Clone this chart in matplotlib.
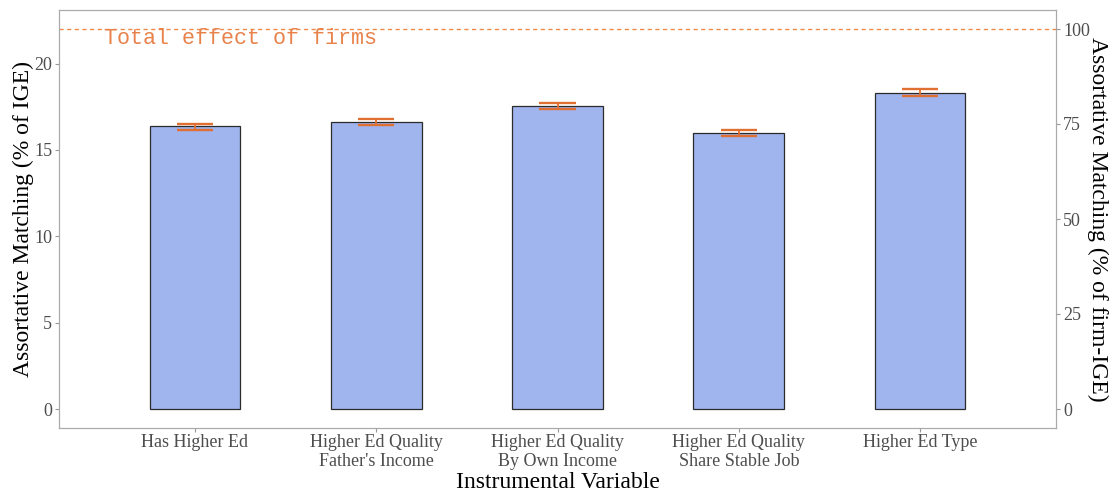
import numpy as np
import matplotlib
matplotlib.use("Agg")
import matplotlib.pyplot as plt

# data
categories = ["Has Higher Ed", "Higher Ed Quality\nFather's Income", "Higher Ed Quality\nBy Own Income",
              "Higher Ed Quality\nShare Stable Job", "Higher Ed Type"]
values = [16.36, 16.63, 17.53, 15.96, 18.32]
err_lo = [16.18, 16.45, 17.36, 15.80, 18.15]
err_hi = [16.49, 16.78, 17.69, 16.13, 18.50]
total_firms = 22.0
right_ticks = [0, 25, 50, 75, 100]

plt.rcParams['font.family'] = ['Liberation Serif', 'DejaVu Serif']

fig = plt.figure(figsize=(11.13, 4.95), dpi=100)
ax = fig.add_axes([59/1113, 1-428/495, 997/1113, 418/495])

x = np.arange(1, len(categories)+1)
ax.bar(x, values, width=0.5, color="#a0b4ee", edgecolor="#2b2b2b", linewidth=0.9, zorder=2)
for xi, lo, hi in zip(x, err_lo, err_hi):
    ax.plot([xi-0.1, xi+0.1], [lo, lo], color="#e07032", lw=1.7, zorder=3, solid_capstyle="butt")
    ax.plot([xi-0.1, xi+0.1], [hi, hi], color="#e07032", lw=1.7, zorder=3, solid_capstyle="butt")
    ax.plot([xi, xi], [lo, hi], color="#e07032", lw=1.3, zorder=3)

ax.axhline(total_firms, color="#f08a4b", lw=1, ls=(0, (3, 2.5)), zorder=1)
ax.text(0.5, 21.45, "Total effect of firms", family="Liberation Mono", fontsize=15.7,
        color="#e8824a", ha="left", va="center")

ax.set_xlim(0.25, 5.75)
ax.set_ylim(-1.1, 23.1)
ax.set_xticks(x)
ax.set_xticklabels(categories, fontsize=13, color="#4d4d4d", linespacing=1.2)
ax.set_yticks([0, 5, 10, 15, 20])
ax.tick_params(axis="y", labelsize=13, labelcolor="#4d4d4d", color="#999999", length=3, pad=2)
ax.tick_params(axis="x", color="#999999", length=3, pad=1)
for s in ax.spines.values():
    s.set_color("#aaaaaa")
ax.set_xlabel("Instrumental Variable", fontsize=17, labelpad=1)
ax.set_ylabel("Assortative Matching (% of IGE)", fontsize=17, labelpad=0)

ax2 = ax.twinx()
ax2.set_ylim(-1.1/total_firms*100, 23.1/total_firms*100)
ax2.set_yticks(right_ticks)
ax2.tick_params(axis="y", labelsize=13, labelcolor="#4d4d4d", color="#999999", length=3, pad=2)
for s in ax2.spines.values():
    s.set_color("#aaaaaa")
ax2.set_ylabel("Assortative Matching (% of firm-IGE)", fontsize=17, rotation=270, labelpad=13)

fig.savefig("out.png", dpi=100)
